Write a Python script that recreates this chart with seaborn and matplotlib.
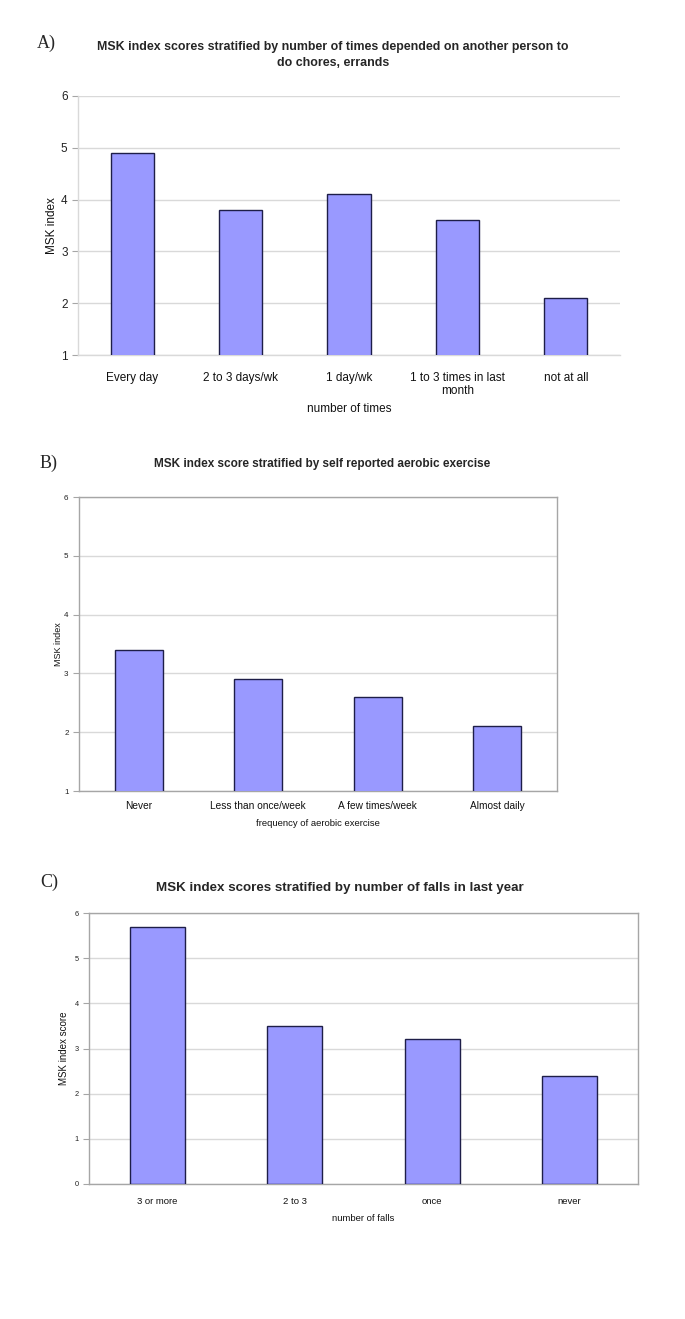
import numpy as np
import pandas as pd
import matplotlib
matplotlib.use("Agg")
import matplotlib.pyplot as plt
import seaborn as sns

# panel A: depended on another person for chores / errands
times_cats = ["Every day", "2 to 3 days/wk", "1 day/wk",
              "1 to 3 times in last\nmonth", "not at all"]
times_msk = [4.9, 3.8, 4.1, 3.6, 2.1]

# panel B: self reported aerobic exercise
exercise_cats = ["Never", "Less than once/week", "A few times/week", "Almost daily"]
exercise_msk = [3.4, 2.9, 2.6, 2.1]

# panel C: falls in last year
falls_cats = ["3 or more", "2 to 3", "once", "never"]
falls_msk = [5.7, 3.5, 3.2, 2.4]

sns.set_style("white")
plt.rcParams['font.family'] = ['Liberation Sans', 'DejaVu Sans']

W, H = 685, 1319
fig = plt.figure(figsize=(W / 100, H / 100), dpi=100)

BAR = "#9999FF"
EDGE = "#1e1e48"
GRID = "#d9d9d9"
FRAME = "#a6a6a6"


def px_axes(left, top, right, bottom):
    return fig.add_axes([left / W, 1 - bottom / H, (right - left) / W, (bottom - top) / H])


def fig_text(x, y, s, **kw):
    fig.text(x / W, 1 - y / H, s, **kw)


def draw_panel(ax, cats, vals, ylim, tick_fs, ylab, ylab_fs, xlab, xlab_fs, boxed, xpad):
    df = pd.DataFrame({"cat": cats, "val": vals})
    sns.barplot(data=df, x="cat", y="val", ax=ax, color=BAR, saturation=1,
                width=0.4, edgecolor=EDGE, linewidth=1.0, zorder=3)
    ax.set_ylim(*ylim)
    ax.set_xlim(-0.5, len(cats) - 0.5)
    ax.set_yticks(np.arange(ylim[0], ylim[1] + 1))
    ax.yaxis.grid(True, color=GRID, linewidth=1, zorder=0)
    ax.set_axisbelow(True)
    ax.set_xticks(np.arange(-0.5, len(cats)), minor=True)
    ax.tick_params(axis="x", which="major", length=0, pad=xpad, labelsize=tick_fs, colors="#111111")
    ax.tick_params(axis="x", which="minor", length=4, color=FRAME, width=0.8)
    ax.tick_params(axis="y", length=4, color=FRAME, width=0.8, labelsize=tick_fs if not boxed else tick_fs - 1.5,
                   colors="#222222", left=True)
    ax.set_ylabel(ylab, fontsize=ylab_fs, color="#111111")
    ax.set_xlabel(xlab, fontsize=xlab_fs, color="#111111")
    for side in ["left", "bottom", "top", "right"]:
        ax.spines[side].set_color(FRAME)
        ax.spines[side].set_linewidth(1)
    if not boxed:
        ax.spines["top"].set_visible(False)
        ax.spines["right"].set_visible(False)
        ax.spines["left"].set_color(GRID)
        ax.spines["bottom"].set_color(GRID)


# panel A
axA = px_axes(78, 96, 620, 355)
draw_panel(axA, times_cats, times_msk, (1, 6), 8.5, "MSK index", 8.5,
           "number of times", 8.5, False, 12)
axA.xaxis.labelpad = 4
axA.yaxis.labelpad = 2
fig_text(37, 43, "A)", fontsize=13, family="Liberation Serif", va="center")
fig_text(333, 55, "MSK index scores stratified by number of times depended on another person to\ndo chores, errands",
         fontsize=8.9, fontweight="bold", ha="center", va="center", linespacing=1.5)

# panel B
axB = px_axes(79, 497, 557, 791)
draw_panel(axB, exercise_cats, exercise_msk, (1, 6), 7.3, "MSK index", 6.5,
           "frequency of aerobic exercise", 6.8, True, 7)
axB.xaxis.labelpad = 6
axB.yaxis.labelpad = 1
fig_text(40, 463, "B)", fontsize=13, family="Liberation Serif", va="center")
fig_text(322, 464, "MSK index score stratified by self reported aerobic exercise",
         fontsize=8.5, fontweight="bold", ha="center", va="center")

# panel C
axC = px_axes(89, 913, 638, 1184)
draw_panel(axC, falls_cats, falls_msk, (0, 6), 6.8, "MSK index score", 7,
           "number of falls", 6.8, True, 9)
axC.xaxis.labelpad = 6
fig_text(40, 882, "C)", fontsize=13, family="Liberation Serif", va="center")
fig_text(340, 888, "MSK index scores stratified by number of falls in last year",
         fontsize=9.6, fontweight="bold", ha="center", va="center")

fig.savefig("out.png", dpi=100, facecolor="white")
